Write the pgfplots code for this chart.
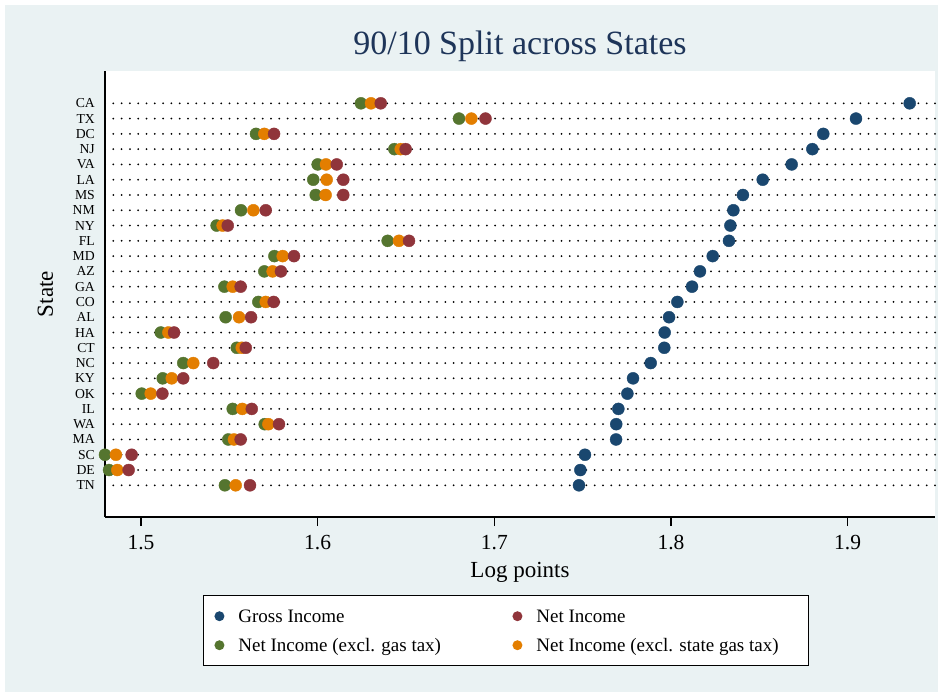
\documentclass[border=0pt]{standalone}
\usepackage{fontspec}
\setmainfont{Liberation Serif}
\usepackage{pgfplots}
\usepackage{pgfplotstable}
\pgfplotsset{compat=1.18}
\definecolor{gblue}{HTML}{1A476F}
\definecolor{gred}{HTML}{90353B}
\definecolor{ggreen}{HTML}{55752F}
\definecolor{gorange}{HTML}{E37E00}
\definecolor{bgc}{HTML}{EAF2F3}
\definecolor{titlec}{HTML}{1E3559}
\pgfplotsset{dotleg/.style={legend image code/.code={\path[draw=none,fill=none] (0bp,0bp) -- (28bp,0bp); \fill[#1, draw=none] (9bp,-0.25bp) circle[radius=5bp];}}}
\pgfplotstableread{
y gross net exgas exstate
1 1.9351 1.6357 1.6245 1.6302
2 1.9047 1.6950 1.6800 1.6870
3 1.8862 1.5753 1.5651 1.5698
4 1.8800 1.6498 1.6434 1.6470
5 1.8683 1.6108 1.6000 1.6047
6 1.8519 1.6145 1.5975 1.6051
7 1.8407 1.6145 1.5989 1.6045
8 1.8353 1.5706 1.5566 1.5636
9 1.8336 1.5491 1.5428 1.5462
10 1.8328 1.6517 1.6396 1.6460
11 1.8236 1.5866 1.5755 1.5802
12 1.8164 1.5792 1.5698 1.5745
13 1.8119 1.5564 1.5472 1.5519
14 1.8036 1.5751 1.5664 1.5706
15 1.7989 1.5623 1.5479 1.5555
16 1.7964 1.5187 1.5112 1.5155
17 1.7962 1.5593 1.5542 1.5570
18 1.7885 1.5409 1.5239 1.5296
19 1.7785 1.5239 1.5123 1.5174
20 1.7753 1.5121 1.5004 1.5055
21 1.7702 1.5627 1.5519 1.5573
22 1.7690 1.5781 1.5700 1.5721
23 1.7689 1.5564 1.5494 1.5526
24 1.7513 1.4947 1.4796 1.4858
25 1.7487 1.4930 1.4819 1.4866
26 1.7479 1.5617 1.5475 1.5536
}\datatable
\begin{document}
\begin{tikzpicture}
\useasboundingbox (0,0) rectangle (948bp,-696bp);
\fill[white] (0,0) rectangle (948bp,-696bp);
\fill[bgc] (5bp,-5bp) rectangle (938bp,-692bp);
\begin{axis}[
  at={(105bp,-517bp)}, anchor=south west,
  scale only axis, width=830bp, height=446bp,
  xmin=1.47962, xmax=1.94943,
  ymin=-1.114, ymax=28.075, y dir=reverse,
  axis x line*=bottom, axis y line*=left,
  axis line style={black, line width=1.1bp},
  axis background/.style={fill=white},
  clip=false,
  xtick={1.5,1.6,1.7,1.8,1.9},
  xticklabels={1.5,1.6,1.7,1.8,1.9},
  xtick align=outside, ytick align=inside,
  major tick length=9bp,
  x tick style={black, line width=1.1bp},
  y tick style={draw=none},
  ytick={1,...,26},
  yticklabels={CA,TX,DC,NJ,VA,LA,MS,NM,NY,FL,MD,AZ,GA,CO,AL,HA,CT,NC,KY,OK,IL,WA,MA,SC,DE,TN},
  ymajorgrids,
  major grid style={black, line width=2bp, line cap=round, dash pattern=on 0bp off 8.3bp, dash phase=0bp},
  /pgf/number format/assume math mode=true,
  xticklabel style={font=\fontsize{21.5bp}{24bp}\selectfont, anchor=base, inner sep=0pt, yshift=-23.3bp},
  yticklabel style={font=\fontsize{13.7bp}{16bp}\selectfont, anchor=east, inner sep=0pt, xshift=-10bp},
  title={90/10 Split across States},
  title style={at={(axis description cs:0.5,1)}, anchor=base, yshift=11bp, inner sep=0pt, font=\fontsize{34bp}{40bp}\selectfont, text=titlec},
  xlabel={Log points},
  xlabel style={at={(axis description cs:0.5,0)}, anchor=base, yshift=-60bp, inner sep=0pt, font=\fontsize{23bp}{26bp}\selectfont},
  ylabel={State},
  ylabel style={at={(axis description cs:-0.06265,0.5)}, anchor=base, inner sep=0pt, font=\fontsize{23bp}{26bp}\selectfont},
  legend columns=2,
  legend cell align=left,
  legend style={at={(axis description cs:0.11807,-0.1749)}, anchor=north west, draw=black, line width=0.9bp, fill=white,
    inner xsep=7bp, inner ysep=11.75bp, row sep=11.5bp, column sep=0bp,
    font=\fontsize{19bp}{22bp}\selectfont,
    nodes={inner sep=0pt, text height=15.5bp, text depth=2bp}},
]
\addlegendimage{dotleg=gblue}
\addlegendentry{\makebox[270bp][l]{Gross Income}}
\addlegendimage{dotleg=gred}
\addlegendentry{\makebox[265bp][l]{Net Income}}
\addlegendimage{dotleg=ggreen}
\addlegendentry{\makebox[270bp][l]{Net Income (excl. gas tax)}}
\addlegendimage{dotleg=gorange}
\addlegendentry{\makebox[265bp][l]{Net Income (excl. state gas tax)}}
\addplot[forget plot, only marks, mark=*, mark size=6bp, color=gblue] table[x=gross, y=y] {\datatable};
\addplot[forget plot, only marks, mark=*, mark size=6bp, color=ggreen] table[x=exgas, y=y] {\datatable};
\addplot[forget plot, only marks, mark=*, mark size=6bp, color=gorange] table[x=exstate, y=y] {\datatable};
\addplot[forget plot, only marks, mark=*, mark size=6bp, color=gred] table[x=net, y=y] {\datatable};
\end{axis}
\end{tikzpicture}
\end{document}
